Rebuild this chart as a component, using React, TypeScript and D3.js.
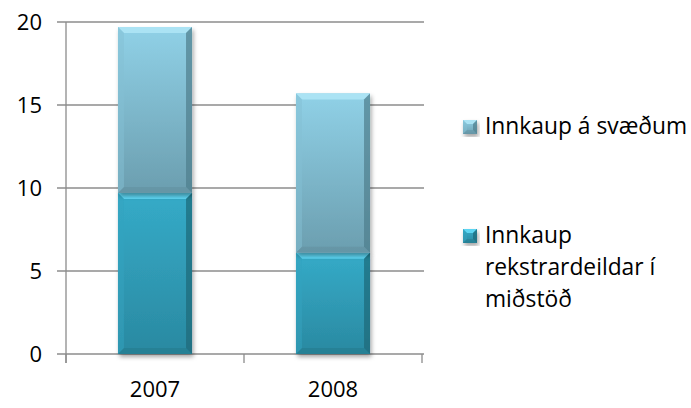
import React from "react";
import * as d3 from "d3";

const categories = ["2007", "2008"];
const seriesNames = ["Innkaup rekstrardeildar í miðstöð", "Innkaup á svæðum"];
const valuesMidstod = [9.7, 6.1];
const valuesSvaedum = [10.0, 9.6];
const yTicks = [0, 5, 10, 15, 20];

const W = 691;
const H = 408;
const FONT = "'Open Sans', 'Noto Sans', sans-serif";

const palettes = [
  { id: "g0", top: "#35abc8", bot: "#2a89a1", bevTop: "#5dd5f2", bevLeft: "#33a3c0", bevRight: "#1d6878", bevBot: "#22707f" },
  { id: "g1", top: "#90d1e7", bot: "#6b9eaf", bevTop: "#abe3f4", bevLeft: "#84c0d4", bevRight: "#4f7d8b", bevBot: "#5b8795" },
];

function Bevel({ x0, y0, w, h, p, b }: any) {
  const x1 = x0 + w;
  const y1 = y0 + h;
  const pts = (a: number[][]) => a.map((q) => q.join(",")).join(" ");
  return (
    <g>
      <rect x={x0} y={y0} width={w} height={h} fill={`url(#${p.id})`} />
      <polygon points={pts([[x0, y0], [x1, y0], [x1 - b, y0 + b], [x0 + b, y0 + b]])} fill={p.bevTop} />
      <polygon points={pts([[x0, y0], [x0 + b, y0 + b], [x0 + b, y1 - b], [x0, y1]])} fill={p.bevLeft} opacity={0.5} />
      <polygon points={pts([[x1, y0], [x1, y1], [x1 - b, y1 - b], [x1 - b, y0 + b]])} fill={p.bevRight} opacity={0.7} />
      <polygon points={pts([[x0, y1], [x1, y1], [x1 - b, y1 - b], [x0 + b, y1 - b]])} fill={p.bevBot} opacity={0.35} />
    </g>
  );
}

export default function App() {
  const y = d3.scaleLinear().domain([0, 20]).range([354, 22]);
  const x = d3
    .scaleBand<string>()
    .domain(categories)
    .range([66, 422])
    .paddingInner(0.584)
    .paddingOuter(0.292);

  const table = categories.map((c, i) => ({ cat: c, a: valuesMidstod[i], b: valuesSvaedum[i] }));
  const stacked = d3.stack<any>().keys(["a", "b"])(table);

  const xTickPos = [66, (66 + 422) / 2, 422];

  return (
    <svg
      width={W}
      height={H}
      style={{ position: "fixed", left: 0, top: 0, background: "#fff" }}
      fontFamily={FONT}
    >
      <defs>
        {palettes.map((p) => (
          <linearGradient key={p.id} id={p.id} x1="0" y1="0" x2="0" y2="1">
            <stop offset="0" stopColor={p.top} />
            <stop offset="1" stopColor={p.bot} />
          </linearGradient>
        ))}
        <filter id="shadow" x="-20%" y="-10%" width="140%" height="130%">
          <feDropShadow dx="1.5" dy="3" stdDeviation="2.2" floodColor="#000" floodOpacity="0.35" />
        </filter>
      </defs>

      {/* gridlines */}
      {yTicks.map((t) => (
        <line key={t} x1={57} x2={424} y1={y(t)} y2={y(t)} stroke="#8c8c8c" strokeWidth={1.3} />
      ))}
      {/* y axis */}
      <line x1={66} x2={66} y1={22} y2={363} stroke="#8c8c8c" strokeWidth={1.3} />
      {xTickPos.map((t, i) => (
        <line key={i} x1={t} x2={t} y1={354} y2={363} stroke="#8c8c8c" strokeWidth={1.3} />
      ))}
      {yTicks.map((t) => (
        <text key={t} x={42} y={y(t)} dy="0.36em" textAnchor="end" fontSize={22} fill="#000">
          {t}
        </text>
      ))}

      {/* bars */}
      {stacked.map((s, si) => (
        <g key={si} filter="url(#shadow)">
          {s.map((d: any, i: number) => {
            const x0 = x(categories[i]) as number;
            const yTop = y(d[1]);
            const yBot = y(d[0]);
            return (
              <Bevel key={i} x0={x0} y0={yTop} w={x.bandwidth()} h={yBot - yTop} p={palettes[si]} b={6} />
            );
          })}
        </g>
      ))}

      {categories.map((c) => (
        <text key={c} x={(x(c) as number) + x.bandwidth() / 2} y={397} textAnchor="middle" fontSize={22} fill="#000">
          {c}
        </text>
      ))}

      {/* legend */}
      <g>
        <g filter="url(#shadow)">
          <Bevel x0={463} y0={120} w={14} h={14} p={palettes[1]} b={4} />
        </g>
        <text x={485} y={134} fontSize={22.8} fill="#000">{seriesNames[1]}</text>
        <g filter="url(#shadow)">
          <Bevel x0={463} y0={229} w={14} h={14} p={palettes[0]} b={4} />
        </g>
        <text x={485} y={243} fontSize={22.8} fill="#000">
          <tspan x={485} y={243}>Innkaup</tspan>
          <tspan x={485} y={275}>rekstrardeildar í</tspan>
          <tspan x={485} y={307}>miðstöð</tspan>
        </text>
      </g>
    </svg>
  );
}
